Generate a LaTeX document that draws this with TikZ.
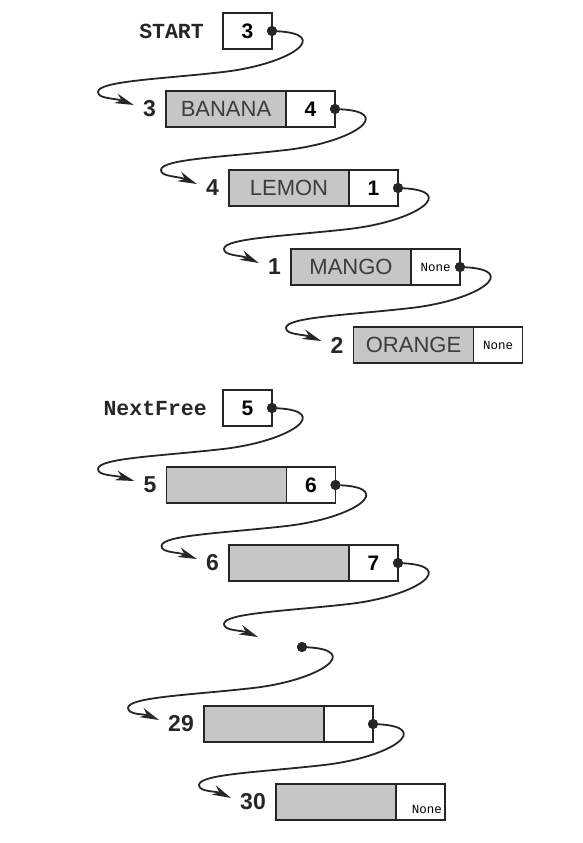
\documentclass[tikz,border=0pt]{standalone}
\usepackage{fontspec}
\setmainfont{Liberation Sans}
\setmonofont{Liberation Mono}
\usetikzlibrary{arrows.meta,calc,positioning}
\definecolor{ink}{HTML}{262626}
\definecolor{cellgray}{HTML}{C6C6C6}
\newcommand\linkcurve[2]{%
  \draw[link] (#1) .. controls ($(#1)+(60,-3)$) and ($(#1)+(20,-33)$) ..
    ($(#1)+(-49,-41)$) .. controls ($(#1)+(-110,-48)$) and ($(#1)+(-174,-50)$) ..
    ($(#1)+(-174,-61)$) .. controls ($(#1)+(-174,-68)$) and ($(#1)+(-157,-67)$) .. (#2);}
\begin{document}
\begin{tikzpicture}[x=1pt,y=1pt,
  cell/.style={draw=ink, line width=1.4pt, minimum height=36pt, inner sep=0pt, outer sep=0pt},
  gcell/.style={cell, fill=cellgray, minimum width=120pt, text=ink!90,
    font=\fontsize{22}{22}\selectfont},
  wcell/.style={cell, fill=white, minimum width=49pt, anchor=west,
    font=\bfseries\fontsize{21}{21}\selectfont},
  nonetxt/.style={font=\ttfamily\fontsize{12.5}{12.5}\selectfont, inner sep=0pt},
  lbl/.style={font=\bfseries\fontsize{23}{23}\selectfont, inner sep=0pt, text=ink},
  ptr/.style={font=\ttfamily\bfseries\fontsize{21.5}{21.5}\selectfont, inner sep=0pt, text=ink},
  dot/.style={circle, fill=ink, inner sep=0pt, minimum size=10pt},
  link/.style={draw=ink, line width=1.8pt, -{Stealth[length=19pt,width=10pt,inset=6pt]}}
]
\useasboundingbox (0,0) rectangle (583,-843);

% START
\node[cell, minimum width=49pt, font=\bfseries\fontsize{21}{21}\selectfont] (start) at (247.5,-31) {3};
\node[ptr, left=19pt of start.west] (startlbl) {START};
\node[dot] (d0) at (start.east) {};

% list rows
\node[gcell] (g1) at (226,-109) {BANANA};
\node[wcell] (w1) at (g1.east) {4};
\node[lbl, left=10pt of g1.west] (l1) {3};
\node[dot] (d1) at (w1.east) {};

\node[gcell] (g2) at (289,-188) {LEMON};
\node[wcell] (w2) at (g2.east) {1};
\node[lbl, left=10pt of g2.west] (l2) {4};
\node[dot] (d2) at (w2.east) {};

\node[gcell] (g3) at (351,-267) {MANGO};
\node[wcell] (w3) at (g3.east) {};
\node[nonetxt] at (w3.center) {None};
\node[lbl, left=10pt of g3.west] (l3) {1};
\node[dot] (d3) at (w3.east) {};

\node[gcell] (g4) at (413.5,-345) {ORANGE};
\node[wcell] (w4) at (g4.east) {};
\node[nonetxt] at (w4.center) {None};
\node[lbl, left=10pt of g4.west] (l4) {2};

% NextFree
\node[cell, minimum width=49pt, font=\bfseries\fontsize{21}{21}\selectfont] (nf) at (247.5,-408) {5};
\node[ptr, left=16pt of nf.west] (nflbl) {NextFree};
\node[dot] (d5) at (nf.east) {};

\node[gcell] (g5) at (226.5,-485) {};
\node[wcell] (w5) at (g5.east) {6};
\node[lbl, left=10pt of g5.west] (l5) {5};
\node[dot] (d6) at (w5.east) {};

\node[gcell] (g6) at (289,-563) {};
\node[wcell] (w6) at (g6.east) {7};
\node[lbl, left=10pt of g6.west] (l6) {6};
\node[dot] (d7) at (w6.east) {};

\node[dot] (dgap) at (302,-647) {};
\coordinate (tgap) at ($(d7)+(-140,-74)$);

\node[gcell] (g29) at (264,-724) {};
\node[wcell] (w29) at (g29.east) {};
\node[lbl, left=10pt of g29.west] (l29) {29};
\node[dot] (d29) at (w29.east) {};

\node[gcell] (g30) at (336,-802) {};
\node[wcell] (w30) at (g30.east) {};
\node[nonetxt, anchor=south east] at ($(w30.south east)+(-3,6)$) {None};
\node[lbl, left=10pt of g30.west] (l30) {30};

% arrow tips
\foreach \n in {1,2,3,4,5,6,29,30}{\coordinate (t\n) at ($(l\n.west)+(-9,4)$);}

% connectors
\linkcurve{d0}{t1}
\linkcurve{d1}{t2}
\linkcurve{d2}{t3}
\linkcurve{d3}{t4}
\linkcurve{d5}{t5}
\linkcurve{d6}{t6}
\linkcurve{d7}{tgap}
\linkcurve{dgap}{t29}
\linkcurve{d29}{t30}

% redraw dots on top
\foreach \d in {d0,d1,d2,d3,d5,d6,d7,dgap,d29}{\fill[ink] (\d) circle (5pt);}
\end{tikzpicture}
\end{document}
